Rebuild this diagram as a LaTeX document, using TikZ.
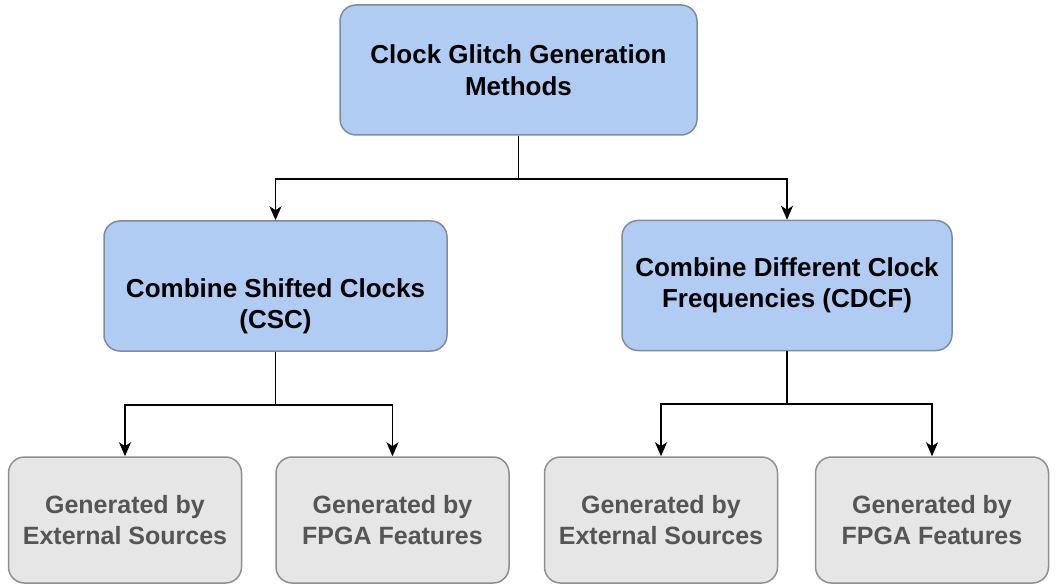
\documentclass[tikz,border=0pt]{standalone}
\usepackage{fontspec}
\setmainfont{Liberation Sans}
\usetikzlibrary{arrows.meta,positioning}
\definecolor{boxblue}{HTML}{B1CCF3}
\definecolor{blueline}{HTML}{7D8CA3}
\definecolor{boxgray}{HTML}{E6E6E6}
\definecolor{grayline}{HTML}{8F8F8F}
\definecolor{graytext}{HTML}{555555}

\begin{document}
\begin{tikzpicture}[x=1pt,y=1pt,
    method/.style={draw=blueline,fill=boxblue,line width=1.5pt,rounded corners=16pt,
        align=center,minimum height=130pt,inner sep=0pt,
        font=\fontsize{26}{31.5}\selectfont\bfseries},
    source/.style={draw=grayline,fill=boxgray,line width=1.5pt,rounded corners=16pt,
        align=center,minimum height=126pt,minimum width=233pt,inner sep=0pt,text=graytext,
        font=\fontsize{25}{31}\selectfont\bfseries},
    link/.style={line width=1.8pt,-{Stealth[length=14pt,width=12pt,inset=4pt]}}]
    \useasboundingbox (0,0) rectangle (1059,-585);
    \node[method,minimum width=357pt] (top)   at (518.5,-70)  {Clock Glitch Generation\\Methods};
    \node[method,minimum width=343pt] (csc)   at (275.5,-286) {\rule{0pt}{59pt}Combine Shifted Clocks\hspace{8pt}\\(CSC)};
    \node[method,minimum width=330pt] (cdcf)  at (787,-285.5) {Combine Different Clock\\Frequencies (CDCF)};
    \node[source] (ext1)  at (125,-520)   {Generated by\\External Sources};
    \node[source] (fpga1) at (392.5,-520) {Generated by\\FPGA Features};
    \node[source] (ext2)  at (661,-520)   {Generated by\\External Sources};
    \node[source] (fpga2) at (932,-520)   {Generated by\\FPGA Features};
    \draw[link] (top.south)  -- ++(0,-43) -| (csc.north);
    \draw[link] (top.south)  -- ++(0,-43) -| (cdcf.north);
    \draw[link] (csc.south)  -- ++(0,-53) -| (ext1.north);
    \draw[link] (csc.south)  -- ++(0,-53) -| (fpga1.north);
    \draw[link] (cdcf.south) -- ++(0,-53) -| (ext2.north);
    \draw[link] (cdcf.south) -- ++(0,-53) -| (fpga2.north);
\end{tikzpicture}
\end{document}
